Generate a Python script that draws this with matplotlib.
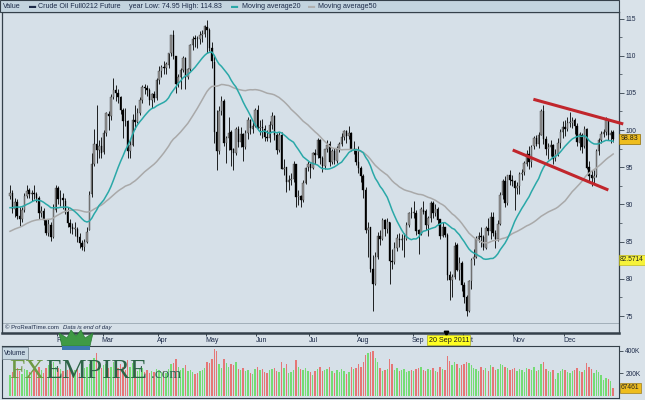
import numpy as np
import pandas as pd
import matplotlib
matplotlib.use("Agg")
import matplotlib.pyplot as plt
from matplotlib.patches import Rectangle, Polygon
import matplotlib.transforms as mtransforms

# ------------------------------------------------------------------ data
holidays = ["2011-01-17", "2011-02-21", "2011-04-22", "2011-05-30",
            "2011-07-04", "2011-09-05", "2011-11-24", "2011-12-26"]

# closes before the first shown bar (used only for the moving averages)
prior_closes = [81.69, 82.52, 82.55, 81.94, 82.18, 81.43,
                82.95, 83.90, 84.69, 86.49, 86.85, 87.06, 86.72, 87.81, 87.81, 84.88,
                84.86, 82.34, 80.44, 81.85, 81.51, 81.74, 83.25, 82.88, 83.76, 85.73, 84.11,
                86.75, 88.00, 89.19, 89.38, 88.69, 88.28, 88.37, 87.79, 88.61, 88.28, 88.62,
                87.70, 88.02, 89.37, 89.82, 90.48, 91.51, 91.00, 91.49, 91.12, 89.84, 91.38]

opens = [
    91.2, 91.5, 89.4, 90.3, 88.4, 88.0, 89.3, 91.1, 91.9, 91.4, 91.5, 91.4, 90.9, 88.9, 89.1, 87.9, 86.2, 87.3, 85.6, 89.3,
    92.2, 90.8, 90.9, 90.5, 89.0, 87.5, 86.9, 86.7, 86.7, 85.6, 84.8, 84.3, 85.0, 86.6, 91.4, 95.4, 98.1, 97.3, 97.9,
    97.0, 99.6, 102.2, 101.9, 104.4, 105.4, 105.0, 104.4, 102.7, 101.2, 101.2, 97.2, 98.0, 101.4, 101.1, 102.3, 104.0, 105.8, 105.6, 105.4, 104.0, 104.8, 104.3,
    106.7, 107.9, 108.5, 108.3, 108.8, 110.3, 112.8, 109.9, 106.3, 107.1, 108.1, 109.7, 107.1, 108.2, 111.5, 112.3, 112.3, 112.2, 112.8, 112.9,
    113.9, 113.5, 111.1, 109.2, 99.8, 97.2, 102.6, 103.9, 98.2, 99.0, 99.7, 97.4, 96.9, 100.1, 98.4, 99.5, 97.7, 99.6, 101.3, 100.2, 100.6,
    102.7, 100.3, 100.4, 100.2, 99.0, 98.9, 100.7, 101.9, 99.3, 97.3, 99.4, 94.8, 95.0, 93.0, 93.3, 93.4, 95.4, 91.0, 91.2, 90.6, 92.9, 95.0,
    95.4, 94.9, 96.9, 96.7, 98.7, 96.2, 95.2, 97.4, 98.1, 95.7, 97.2, 95.9, 97.5, 98.1, 99.1, 99.9, 99.2, 99.6, 97.4, 97.4,
    95.7, 94.9, 93.8, 91.9, 86.6, 86.9, 81.3, 79.3, 82.9, 85.7, 85.4, 87.9, 86.7, 87.6, 82.4, 82.3, 84.1, 85.4, 85.2, 85.3, 85.4, 87.3, 88.9,
    88.8, 88.9, 86.5, 86.0, 89.3, 89.1, 87.2, 88.2, 90.2, 88.9, 89.4, 88.0, 85.7, 86.9, 85.9, 80.5, 79.9, 80.2, 84.5, 81.2, 82.1,
    79.2, 77.6, 75.7, 79.7, 82.6, 83.0, 85.4, 85.8, 85.6, 84.2, 86.8, 86.4, 88.3, 86.1, 85.3, 87.4, 91.3, 93.2, 90.2, 94.0, 93.3,
    93.2, 92.2, 92.5, 94.1, 94.3, 95.5, 96.8, 95.7, 97.8, 99.0, 98.1, 99.4, 102.6, 98.8, 97.4, 97.7, 98.0, 96.2, 96.8, 98.2, 99.8,
    100.4, 100.2, 101.0, 101.0, 101.3, 100.5, 98.3, 99.4, 97.8, 100.1, 95.0, 93.9, 93.5, 93.9, 97.2, 98.7, 99.5, 99.7, 101.3, 99.4, 99.7,
]
highs = [
    92.6, 91.9, 90.8, 90.7, 89.6, 89.6, 91.5, 92.6, 92.2, 91.9, 92.6, 91.7, 91.1, 89.8, 89.5, 88.1, 88.0, 87.6, 90.0, 92.6,
    92.5, 92.0, 91.5, 90.8, 89.7, 88.0, 87.5, 87.7, 87.0, 86.1, 85.2, 85.4, 87.0, 91.8, 96.9, 100.2, 103.4, 98.7, 99.1,
    100.0, 102.4, 102.5, 104.9, 106.95, 106.0, 105.5, 104.6, 103.0, 102.9, 101.3, 98.8, 102.1, 103.4, 103.0, 104.5, 106.0, 106.2, 106.1, 105.6, 105.0, 105.3, 107.0,
    108.6, 108.8, 109.3, 109.2, 110.4, 112.8, 113.5, 110.0, 107.6, 108.4, 110.0, 109.8, 108.4, 111.6, 112.6, 112.8, 112.6, 113.3, 113.5, 114.1,
    114.83, 113.7, 111.9, 109.9, 102.7, 103.2, 104.6, 104.2, 99.2, 101.7, 100.0, 97.6, 100.4, 100.6, 100.4, 99.6, 100.0, 101.7, 101.5, 101.2, 102.9,
    103.4, 101.4, 101.5, 100.7, 100.0, 101.2, 102.4, 102.0, 99.6, 99.8, 99.7, 96.1, 95.1, 94.0, 94.2, 95.8, 95.5, 92.0, 91.3, 93.3, 95.0, 95.9,
    95.6, 97.0, 97.4, 99.0, 98.8, 96.5, 97.5, 98.6, 98.5, 97.5, 97.6, 97.8, 98.4, 99.6, 100.0, 100.0, 100.6, 99.8, 98.5, 97.5,
    97.9, 95.2, 94.1, 92.3, 87.7, 87.0, 83.2, 83.6, 86.3, 86.6, 88.2, 88.0, 88.2, 87.7, 84.0, 85.0, 86.0, 86.2, 86.0, 86.1, 87.7, 89.0, 89.6,
    90.5, 89.2, 86.7, 89.6, 90.5, 89.4, 88.5, 90.5, 90.5, 90.0, 89.6, 88.1, 87.7, 87.0, 86.2, 81.0, 80.7, 84.9, 84.8, 83.0, 82.4,
    79.6, 77.8, 79.9, 82.8, 84.0, 85.8, 86.3, 86.9, 85.9, 87.1, 88.2, 89.0, 89.0, 86.6, 87.9, 91.7, 93.4, 93.8, 94.0, 94.6, 94.0,
    93.3, 93.0, 94.4, 94.7, 95.8, 97.3, 97.8, 98.0, 99.2, 99.4, 99.7, 102.8, 103.37, 99.2, 98.3, 98.6, 98.1, 97.5, 99.0, 100.1, 101.2,
    101.3, 101.7, 102.4, 101.8, 101.6, 100.9, 99.8, 99.6, 100.6, 100.3, 95.9, 94.6, 94.6, 97.4, 99.0, 99.9, 100.2, 101.8, 101.5, 100.0, 100.0,
]
lows = [
    90.7, 88.8, 88.3, 88.1, 87.1, 87.6, 89.0, 90.8, 90.9, 90.4, 90.7, 90.3, 88.0, 88.3, 87.3, 85.9, 85.8, 85.1, 85.5, 89.0,
    90.1, 89.8, 89.4, 88.7, 87.0, 86.1, 86.0, 85.8, 84.9, 84.1, 83.9, 83.7, 84.8, 86.5, 91.0, 95.2, 95.6, 96.2, 96.3,
    96.8, 99.2, 100.0, 101.4, 104.2, 103.9, 103.6, 102.1, 99.0, 100.5, 96.2, 96.3, 97.8, 100.1, 101.0, 102.0, 103.6, 104.9, 104.6, 103.4, 103.0, 103.8, 104.0,
    106.2, 107.2, 107.5, 107.6, 108.3, 110.0, 109.5, 105.0, 105.8, 105.5, 107.8, 105.5, 106.8, 107.9, 110.8, 111.2, 111.0, 111.6, 111.9, 112.5,
    110.4, 110.6, 108.3, 98.3, 94.63, 96.8, 102.0, 97.9, 95.6, 97.3, 95.2, 94.6, 96.7, 97.7, 97.7, 95.8, 97.4, 98.8, 99.5, 99.6, 100.4,
    100.0, 99.3, 98.9, 98.5, 98.5, 98.4, 100.1, 98.7, 96.8, 97.1, 94.7, 94.0, 91.7, 91.9, 92.6, 93.0, 89.7, 89.9, 89.6, 90.3, 92.7, 94.5,
    93.6, 94.7, 95.5, 96.3, 95.4, 94.3, 94.8, 97.0, 95.2, 95.5, 95.4, 95.6, 97.0, 97.8, 98.6, 98.2, 98.8, 97.2, 96.8, 95.3,
    94.2, 93.0, 90.9, 86.2, 82.9, 80.9, 75.71, 79.2, 82.7, 84.6, 85.2, 85.8, 86.2, 79.3, 81.3, 82.0, 83.8, 84.3, 83.9, 83.0, 85.2, 86.9, 88.2,
    88.2, 85.9, 83.4, 85.9, 88.7, 86.6, 85.8, 87.6, 88.2, 88.4, 87.2, 85.3, 85.6, 85.6, 79.9, 77.1, 77.6, 80.0, 81.1, 79.8, 78.4,
    76.7, 74.95, 75.5, 78.6, 81.8, 82.8, 84.9, 84.3, 83.9, 84.0, 85.9, 85.4, 85.8, 84.2, 85.1, 87.3, 90.7, 89.7, 89.9, 92.6, 92.5,
    89.2, 91.4, 91.4, 93.3, 93.9, 95.2, 94.8, 95.1, 97.4, 97.8, 97.6, 99.3, 98.1, 96.6, 96.1, 96.5, 95.4, 95.9, 96.5, 97.6, 99.0,
    99.2, 99.9, 100.4, 100.3, 99.5, 97.9, 97.3, 96.9, 97.6, 94.7, 93.1, 92.5, 92.9, 93.7, 96.7, 98.2, 99.1, 99.4, 98.7, 98.3, 98.4,
]
closes = [
    91.55, 89.38, 90.30, 88.38, 88.03, 89.25, 91.11, 91.86, 91.40, 91.54, 91.38, 90.86, 88.86, 89.11, 87.87, 86.19, 87.33, 85.64, 89.34, 92.19,
    90.77, 90.86, 90.54, 89.03, 87.48, 86.94, 86.71, 86.73, 85.58, 84.81, 84.32, 84.99, 86.36, 91.30, 95.42, 98.10, 97.28, 97.88, 96.97,
    99.63, 102.23, 101.91, 104.42, 105.44, 105.02, 104.38, 102.70, 101.16, 101.19, 97.18, 97.98, 101.42, 101.07, 102.33, 104.00, 105.75, 105.60, 105.40, 103.98, 104.79, 104.27, 106.72,
    107.94, 108.47, 108.34, 108.83, 110.30, 112.79, 109.92, 106.25, 107.11, 108.11, 109.66, 107.12, 108.15, 111.45, 112.29, 112.28, 112.21, 112.76, 112.86, 113.93,
    113.52, 111.05, 109.24, 99.80, 97.18, 102.55, 103.88, 98.21, 98.97, 99.65, 97.37, 96.91, 100.10, 98.44, 99.49, 97.70, 99.59, 101.32, 100.23, 100.59, 102.70,
    100.29, 100.40, 100.22, 99.01, 98.94, 100.74, 101.93, 99.29, 97.30, 99.37, 94.81, 94.95, 93.01, 93.26, 93.40, 95.41, 91.02, 91.16, 90.61, 92.89, 94.96, 95.42,
    94.94, 96.89, 96.65, 98.67, 96.20, 95.15, 97.43, 98.05, 95.69, 97.24, 95.93, 97.50, 98.14, 99.13, 99.87, 99.20, 99.59, 97.40, 97.44, 95.70,
    94.89, 93.79, 91.93, 86.63, 86.88, 81.31, 79.30, 82.89, 85.72, 85.38, 87.88, 86.65, 87.58, 82.38, 82.26, 84.12, 85.44, 85.16, 85.30, 85.37, 87.27, 88.90, 88.81,
    88.93, 86.45, 86.02, 89.34, 89.05, 87.24, 88.19, 90.21, 88.91, 89.40, 87.96, 85.70, 86.92, 85.92, 80.51, 79.85, 80.24, 84.45, 81.21, 82.14, 79.20,
    77.61, 75.67, 79.68, 82.59, 82.98, 85.41, 85.81, 85.57, 84.23, 86.80, 86.38, 88.34, 86.11, 85.30, 87.40, 91.27, 93.17, 90.20, 93.96, 93.32, 93.19,
    92.19, 92.51, 94.07, 94.26, 95.52, 96.80, 95.74, 97.78, 98.99, 98.14, 99.37, 102.59, 98.82, 97.41, 97.67, 98.01, 96.17, 96.77, 98.21, 99.79, 100.36,
    100.20, 100.96, 101.00, 101.28, 100.49, 98.34, 99.41, 97.77, 100.14, 94.95, 93.87, 93.53, 93.88, 97.22, 98.67, 99.53, 99.68, 101.34, 99.36, 99.65, 98.83,
]
volumes_k = [
    180, 210, 230, 250, 220, 190, 240, 230, 210, 200, 230, 210, 260, 230, 200, 250, 270, 280, 300, 260,
    250, 240, 220, 210, 230, 250, 220, 230, 240, 200, 230, 250, 260, 280, 300, 340, 380, 260, 250,
    270, 280, 250, 260, 300, 270, 250, 280, 260, 230, 320, 260, 290, 250, 220, 240, 250, 210, 230, 200, 220, 210, 240,
    230, 210, 220, 200, 240, 280, 290, 330, 260, 230, 250, 270, 220, 230, 210, 190, 200, 220, 230, 250,
    300, 290, 330, 420, 400, 280, 250, 330, 290, 260, 280, 270, 300, 240, 230, 250, 220, 230, 200, 190, 240,
    260, 230, 240, 210, 200, 230, 240, 250, 220, 210, 300, 250, 280, 200, 210, 230, 320, 260, 240, 230, 250, 220,
    210, 180, 220, 240, 260, 220, 230, 240, 260, 220, 200, 230, 210, 240, 220, 190, 210, 260, 240, 250,
    280, 260, 300, 360, 380, 390, 400, 340, 300, 250, 220, 230, 240, 330, 280, 230, 250, 220, 230, 240, 210, 220, 230,
    220, 240, 250, 260, 230, 220, 240, 230, 250, 220, 210, 260, 240, 230, 350, 310, 270, 300, 280, 250, 270,
    280, 300, 290, 270, 250, 240, 220, 260, 230, 250, 220, 270, 260, 230, 240, 280, 270, 260, 250, 230, 240,
    250, 220, 240, 230, 210, 250, 240, 230, 260, 220, 230, 280, 300, 240, 220, 210, 230, 150, 200, 220, 240,
    230, 210, 200, 220, 230, 250, 220, 210, 230, 290, 260, 240, 200, 230, 210, 180, 140, 160, 150, 130, 67.461,
]
price_ticks = [75, 80, 85, 90, 95, 100, 105, 110, 115]
volume_ticks_k = [200, 400]
trend_upper_idx, trend_upper_px = [217.8, 255.2], [104.14, 100.82]
trend_lower_idx, trend_lower_px = [209.2, 249.0], [97.32, 91.94]
cursor_date = "2011-09-20"
cursor_price = 82.5714
year_low, year_high = 74.95, 114.83

# ------------------------------------------------------------------ derived
dates = pd.bdate_range("2011-01-03", "2011-12-30")
dates = dates[~dates.isin(pd.to_datetime(holidays))]
n = len(dates)
for name, arr in [("opens", opens), ("highs", highs), ("lows", lows),
                  ("closes", closes), ("volumes", volumes_k)]:
    if len(arr) != n:
        raise ValueError(f"{name} has {len(arr)} values, expected {n}")

idx = np.arange(n)
o = np.array(opens); h = np.array(highs); l = np.array(lows); c = np.array(closes)
allc = pd.Series(prior_closes + closes)
ma20 = allc.rolling(20).mean().iloc[len(prior_closes):].to_numpy()
ma50 = allc.rolling(50).mean().iloc[len(prior_closes):].to_numpy()
up = c >= o

months = pd.Series(dates.month)
month_start = [int(i) for i in np.where(months.diff().fillna(0) != 0)[0]]
month_names = [dates[i].strftime("%b") for i in month_start]
cursor_i = int(np.where(dates == pd.Timestamp(cursor_date))[0][0])

# ------------------------------------------------------------------ figure
W, H = 645, 400
BG = "#d6e0e8"
FIG_BG = "#d9e2e9"
DARK = "#34404a"
TXT = "#1c2a48"
FONT = ["Liberation Sans", "DejaVu Sans"]

fig = plt.figure(figsize=(W / 100, H / 100), dpi=100)
fig.patch.set_facecolor(FIG_BG)

def fx(x):
    return x / W

def fy(y):
    return 1 - y / H

X0, X1 = 2, 619
xlim = ((X0 - 10) / 2.403, (X1 - 10) / 2.403)

# main price panel: pixel rows 12..333
ax = fig.add_axes([fx(X0), fy(333), fx(X1) - fx(X0), (333 - 12) / H])
ax.set_facecolor(BG)
ax.set_xlim(*xlim)
pscale = 7.4375
ax.set_ylim(115 - (333 - 18.5) / pscale, 115 + (18.5 - 12) / pscale)

# candles
ax.vlines(idx, l, h, color="black", lw=0.6, zorder=2)
body_lo = np.minimum(o, c)
body_h = np.maximum(np.abs(c - o), 0.08)
ax.bar(idx[up], body_h[up], bottom=body_lo[up], width=0.62,
       color="#969696", edgecolor="#2a2a2a", linewidth=0.25, zorder=3)
ax.bar(idx[~up], body_h[~up], bottom=body_lo[~up], width=0.62,
       color="black", edgecolor="black", linewidth=0.25, zorder=3)

# moving averages
ax.plot(idx, ma50, color="#a9a9a9", lw=1.1, zorder=4)
ax.plot(idx, ma20, color="#2aa8a8", lw=1.1, zorder=5)

# trend lines
ax.plot(trend_upper_idx, trend_upper_px, color="#c1262c", lw=2.2,
        solid_capstyle="butt", zorder=6, clip_on=False)
ax.plot(trend_lower_idx, trend_lower_px, color="#c1262c", lw=2.2,
        solid_capstyle="butt", zorder=6, clip_on=False)

# thin separator line and copyright text
sep_p = 115 - (323 - 18.5) / pscale
ax.axhline(sep_p, color="#9aa7b2", lw=0.6, zorder=1)
blend_ad = mtransforms.blended_transform_factory(ax.transAxes, ax.transData)
ax.text(0.005, sep_p - 0.25, "\u00a9 ProRealTime.com", fontsize=4.3, color=TXT,
        family=FONT, va="top", ha="left", transform=blend_ad)
ax.text(61 / (X1 - X0), sep_p - 0.25, "Data is end of day", fontsize=4.3, color=TXT,
        family=FONT, style="italic", va="top", ha="left", transform=blend_ad)

# axes styling
for s in ax.spines.values():
    s.set_color(DARK)
    s.set_linewidth(0.9)
ax.spines["bottom"].set_linewidth(1.8)
ax.yaxis.tick_right()
ax.set_yticks(price_ticks)
ax.set_yticklabels([str(t) for t in price_ticks], fontsize=4.8, color=TXT, family=FONT)
ax.set_yticks([t + 2.5 for t in price_ticks[:-1]], minor=True)
ax.tick_params(axis="y", which="major", length=3.5, width=0.6, color=DARK, pad=1.5)
ax.tick_params(axis="y", which="minor", length=2, width=0.5, color=DARK)
tick_pos = [i - 0.5 for i in month_start]
ax.set_xticks(tick_pos)
ax.set_xticklabels([])
ax.tick_params(axis="x", length=2.5, width=0.7, color=DARK, direction="out")
blend_da = mtransforms.blended_transform_factory(ax.transData, ax.transAxes)
for tp, name in zip(tick_pos, month_names):
    ax.text(tp - 0.3, -0.014, name, transform=blend_da,
            fontsize=5, color=TXT, family=FONT, ha="left", va="top")

# right-side value boxes
ax.text(1.003, closes[-1], f"{closes[-1]:.2f}", transform=blend_ad, fontsize=5, color="#222222",
        family=FONT, va="center", ha="left", zorder=10, clip_on=False,
        bbox=dict(boxstyle="square,pad=0.25", facecolor="#eebd1e", edgecolor="#8d6a00", lw=0.5))
ax.text(1.002, cursor_price, f"{cursor_price:.4f}", transform=blend_ad, fontsize=4.8, color="#222222",
        family=FONT, va="center", ha="left", zorder=10, clip_on=False,
        bbox=dict(boxstyle="square,pad=0.2", facecolor="#f6f23a", edgecolor="#b8b000", lw=0.4))

# cursor date box and marker
ax.plot([cursor_i + 1.5], [ax.get_ylim()[0]], marker="v", color="black", markersize=3.2,
        clip_on=False, zorder=12)
ax.text(cursor_i + 2.6, -0.012, dates[cursor_i].strftime("%d %b %Y").lstrip("0"),
        transform=blend_da, fontsize=5.2, color="#1a1a1a", family=FONT, ha="center",
        va="top", zorder=12,
        bbox=dict(boxstyle="square,pad=0.2", facecolor="#ffff22", edgecolor="#a0a000", lw=0.4))

# header bar
fig.add_artist(Rectangle((0, fy(12)), fx(X1), 12 / H, transform=fig.transFigure,
                         facecolor="#c3d4df", edgecolor=DARK, lw=0.8))
hy = fy(6.2)
fig.text(fx(3), hy, "Value", fontsize=5.1, color=TXT, family=FONT, va="center")
fig.text(fx(29), hy, "\u25ac", fontsize=5.1, color="#1c2a48", family=FONT, va="center")
fig.text(fx(38), hy, "Crude Oil Full0212 Future", fontsize=5.1, color=TXT, family=FONT, va="center")
fig.text(fx(129), hy, f"year Low: {year_low:.2f} High: {year_high:.2f}", fontsize=5.1,
         color=TXT, family=FONT, va="center")
fig.text(fx(231), hy, "\u25ac", fontsize=5.1, color="#2aa8a8", family=FONT, va="center")
fig.text(fx(242), hy, "Moving average20", fontsize=5.1, color=TXT, family=FONT, va="center")
fig.text(fx(308), hy, "\u25ac", fontsize=5.1, color="#b0b0b0", family=FONT, va="center")
fig.text(fx(318), hy, "Moving average50", fontsize=5.1, color=TXT, family=FONT, va="center")

# volume panel: pixel rows 346..398, zero at 395.5, 200K = 22.3 px
vax = fig.add_axes([fx(X0), fy(398), fx(X1) - fx(X0), 52 / H])
vax.set_facecolor(BG)
vax.set_xlim(*xlim)
vs = 200 / 22.3
vax.set_ylim(-(398 - 395.5) * vs, (395.5 - 346) * vs)
vcol = np.where(up, "#74dc74", "#e57676")
vax.bar(idx, volumes_k, width=0.58, color=vcol, zorder=2)
for s in vax.spines.values():
    s.set_color(DARK)
    s.set_linewidth(0.8)
vax.set_xticks([])
vax.yaxis.tick_right()
vax.set_yticks(volume_ticks_k)
vax.set_yticklabels([f"{t}K" for t in volume_ticks_k], fontsize=4.8, color=TXT, family=FONT)
vax.tick_params(axis="y", length=3, width=0.6, color=DARK, pad=1.5)
vrt = mtransforms.blended_transform_factory(vax.transAxes, vax.transData)
vax.text(1.003, volumes_k[-1], f"{volumes_k[-1] * 1000:.0f}", transform=vrt, fontsize=4.8,
         color="#222222", family=FONT, va="center", ha="left", clip_on=False, zorder=10,
         bbox=dict(boxstyle="square,pad=0.2", facecolor="#eebd1e", edgecolor="#8d6a00", lw=0.4))
vax.text(0.003, 0.93, "Volume", transform=vax.transAxes, fontsize=4.8, color=TXT, family=FONT,
         va="top", ha="left", zorder=10,
         bbox=dict(boxstyle="square,pad=0.35", facecolor="#c8d8e2", edgecolor="#6a7a86", lw=0.5))

# FXEMPIRE watermark
fig.text(fx(9), fy(378), "FX", fontsize=20, family="Liberation Serif", color="#6f9a45",
         va="baseline", zorder=20)
fig.text(fx(45), fy(378), "EMPIRE", fontsize=20, family="Liberation Serif", color="#2c6446",
         va="baseline", zorder=20)
fig.text(fx(151), fy(378), ".com", fontsize=11, family="Liberation Serif", color="#2f6a55",
         va="baseline", zorder=20)
crown = [(62, 346), (59, 333), (67, 338), (71, 330), (76, 336), (81, 330), (85, 338),
         (93, 333), (90, 346)]
fig.add_artist(Polygon([(fx(x), fy(y)) for x, y in crown], closed=True, transform=fig.transFigure,
                       facecolor="#3f9a45", edgecolor="#2a7a35", lw=0.5, zorder=20))
fig.add_artist(Rectangle((fx(62), fy(350)), fx(28), 4 / H, transform=fig.transFigure,
                         facecolor="#3c78b0", edgecolor="none", zorder=20))

fig.savefig("out.png", dpi=100, facecolor=fig.get_facecolor())
